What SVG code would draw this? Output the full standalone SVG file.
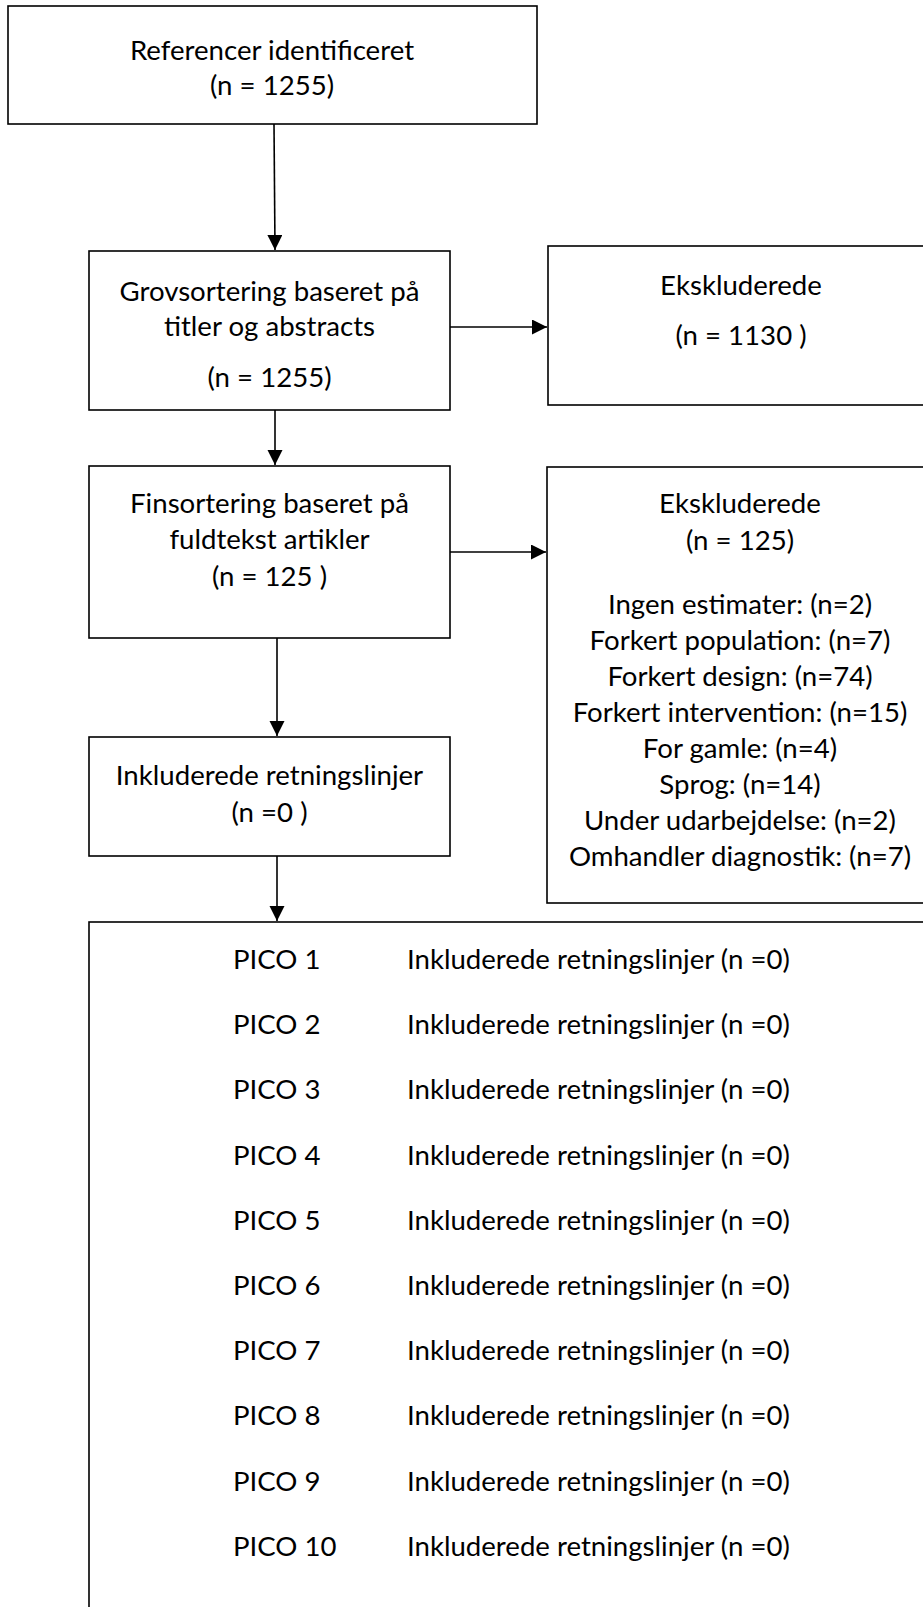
<svg xmlns="http://www.w3.org/2000/svg" width="923" height="1607" viewBox="0 0 923 1607">
<defs>
<style>
.box{fill:#fff;stroke:#000;stroke-width:1.6}
.t{font-family:Lato,"Open Sans","Liberation Sans",sans-serif;font-size:27.6px;fill:#000}
.c{text-anchor:middle}
.conn line{stroke:#000;stroke-width:1.6;fill:none}
</style>
<marker id="ah" markerUnits="userSpaceOnUse" markerWidth="16" markerHeight="16" refX="15" refY="7.5" orient="auto" viewBox="0 0 16 16">
<path d="M0,0 L15,7.5 L0,15 z" fill="#000"/>
</marker>
</defs>
<rect width="923" height="1607" fill="#fff"/>
<g id="n1">
<rect class="box" x="8" y="6" width="529" height="118"/>
<text class="t c" x="272" y="60">Referencer identificeret</text>
<text class="t c" x="272" y="95">(n = 1255)</text>
</g>
<g id="n2">
<rect class="box" x="89" y="251" width="361" height="159"/>
<text class="t c" x="269.5" y="301">Grovsortering baseret på</text>
<text class="t c" x="269.5" y="336">titler og abstracts</text>
<text class="t c" x="269.5" y="387">(n = 1255)</text>
</g>
<g id="n3">
<rect class="box" x="548" y="246" width="386" height="159"/>
<text class="t c" x="741" y="295">Ekskluderede</text>
<text class="t c" x="741" y="345">(n = 1130 )</text>
</g>
<g id="n4">
<rect class="box" x="89" y="466" width="361" height="172"/>
<text class="t c" x="269.5" y="513">Finsortering baseret på</text>
<text class="t c" x="269.5" y="549">fuldtekst artikler</text>
<text class="t c" x="269.5" y="586">(n = 125 )</text>
</g>
<g id="n5">
<rect class="box" x="547" y="467" width="387" height="436"/>
<text class="t c" x="740" y="513">Ekskluderede</text>
<text class="t c" x="740" y="550">(n = 125)</text>
<text class="t c" x="740" y="614">Ingen estimater: (n=2)</text>
<text class="t c" x="740" y="650">Forkert population: (n=7)</text>
<text class="t c" x="740" y="686">Forkert design: (n=74)</text>
<text class="t c" x="740" y="722">Forkert intervention: (n=15)</text>
<text class="t c" x="740" y="758">For gamle: (n=4)</text>
<text class="t c" x="740" y="794">Sprog: (n=14)</text>
<text class="t c" x="740" y="830">Under udarbejdelse: (n=2)</text>
<text class="t c" x="740" y="866">Omhandler diagnostik: (n=7)</text>
</g>
<g id="n6">
<rect class="box" x="89" y="737" width="361" height="119"/>
<text class="t c" x="269.5" y="785">Inkluderede retningslinjer</text>
<text class="t c" x="269.5" y="822">(n =0 )</text>
</g>
<g id="n7">
<rect class="box" x="89" y="922" width="850" height="720"/>
<text class="t" x="233" y="969">PICO 1</text><text class="t" x="407" y="969">Inkluderede retningslinjer (n =0)</text>
<text class="t" x="233" y="1034">PICO 2</text><text class="t" x="407" y="1034">Inkluderede retningslinjer (n =0)</text>
<text class="t" x="233" y="1099">PICO 3</text><text class="t" x="407" y="1099">Inkluderede retningslinjer (n =0)</text>
<text class="t" x="233" y="1165">PICO 4</text><text class="t" x="407" y="1165">Inkluderede retningslinjer (n =0)</text>
<text class="t" x="233" y="1230">PICO 5</text><text class="t" x="407" y="1230">Inkluderede retningslinjer (n =0)</text>
<text class="t" x="233" y="1295">PICO 6</text><text class="t" x="407" y="1295">Inkluderede retningslinjer (n =0)</text>
<text class="t" x="233" y="1360">PICO 7</text><text class="t" x="407" y="1360">Inkluderede retningslinjer (n =0)</text>
<text class="t" x="233" y="1425">PICO 8</text><text class="t" x="407" y="1425">Inkluderede retningslinjer (n =0)</text>
<text class="t" x="233" y="1491">PICO 9</text><text class="t" x="407" y="1491">Inkluderede retningslinjer (n =0)</text>
<text class="t" x="233" y="1556">PICO 10</text><text class="t" x="407" y="1556">Inkluderede retningslinjer (n =0)</text>
</g>
<g id="connectors" class="conn">
<line x1="274" y1="124" x2="275" y2="250" marker-end="url(#ah)"/>
<line x1="450" y1="327" x2="547" y2="327" marker-end="url(#ah)"/>
<line x1="275" y1="410" x2="275" y2="465" marker-end="url(#ah)"/>
<line x1="450" y1="552" x2="546" y2="552" marker-end="url(#ah)"/>
<line x1="277" y1="638" x2="277" y2="736" marker-end="url(#ah)"/>
<line x1="277" y1="856" x2="277" y2="921" marker-end="url(#ah)"/>
</g>
</svg>
